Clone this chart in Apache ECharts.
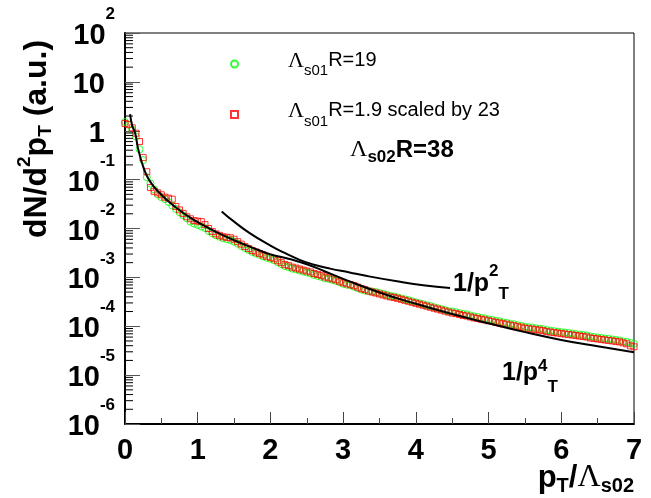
<!DOCTYPE html>
<html>
<head>
<meta charset="utf-8">
<script src="https://cdn.jsdelivr.net/npm/echarts@6.0.0/dist/echarts.min.js"></script>
<style>
  html, body { margin: 0; padding: 0; background: #fff; }
  #chart { width: 651px; height: 498px; }
</style>
</head>
<body>
<div id="chart"></div>
<script>
// pT / Lambda_s02 bin centres shared by both spectra
const ptBins = [
  0.00, 0.05, 0.10, 0.15, 0.20, 0.25, 0.30, 0.35, 0.40, 0.45,
  0.50, 0.55, 0.60, 0.65, 0.70, 0.75, 0.80, 0.85, 0.90, 0.95,
  1.00, 1.05, 1.10, 1.15, 1.20, 1.25, 1.30, 1.35, 1.40, 1.45,
  1.50, 1.55, 1.60, 1.65, 1.70, 1.75, 1.80, 1.85, 1.90, 1.95,
  2.00, 2.05, 2.10, 2.15, 2.20, 2.25, 2.30, 2.35, 2.40, 2.45,
  2.50, 2.55, 2.60, 2.65, 2.70, 2.75, 2.80, 2.85, 2.90, 2.95,
  3.00, 3.05, 3.10, 3.15, 3.20, 3.25, 3.30, 3.35, 3.40, 3.45,
  3.50, 3.55, 3.60, 3.65, 3.70, 3.75, 3.80, 3.85, 3.90, 3.95,
  4.00, 4.05, 4.10, 4.15, 4.20, 4.25, 4.30, 4.35, 4.40, 4.45,
  4.50, 4.55, 4.60, 4.65, 4.70, 4.75, 4.80, 4.85, 4.90, 4.95,
  5.00, 5.05, 5.10, 5.15, 5.20, 5.25, 5.30, 5.35, 5.40, 5.45,
  5.50, 5.55, 5.60, 5.65, 5.70, 5.75, 5.80, 5.85, 5.90, 5.95,
  6.00, 6.05, 6.10, 6.15, 6.20, 6.25, 6.30, 6.35, 6.40, 6.45,
  6.50, 6.55, 6.60, 6.65, 6.70, 6.75, 6.80, 6.85, 6.90, 6.95,
  7.00
];

// dN/d^2pT for Lambda_s01 R = 19
const yieldR19 = [
  1.51, 1.32, 1.05, 0.76, 0.417, 0.251, 0.112, 0.0832, 0.0631, 0.0501,
  0.0437, 0.0398, 0.0347, 0.0295, 0.0251, 0.0214, 0.0186, 0.0162, 0.0138, 0.0126,
  0.0118, 0.0110, 0.0102, 0.00891, 0.00794, 0.00724, 0.00676, 0.00631, 0.00603, 0.00575,
  0.00537, 0.00490, 0.00437, 0.00398, 0.00363, 0.00331, 0.00309, 0.00288, 0.00269, 0.00251,
  0.00240, 0.00224, 0.00204, 0.00186, 0.00170, 0.00162, 0.00151, 0.00145, 0.00138, 0.00132,
  0.00126, 0.00120, 0.00112, 0.00107, 0.00102, 9.55e-4, 9.33e-4, 8.91e-4, 8.51e-4, 7.94e-4,
  7.41e-4, 7.08e-4, 6.90e-4, 6.46e-4, 6.03e-4, 5.62e-4, 5.37e-4, 5.25e-4, 5.13e-4, 5.01e-4,
  4.79e-4, 4.57e-4, 4.37e-4, 4.17e-4, 4.07e-4, 3.89e-4, 3.72e-4, 3.55e-4, 3.42e-4, 3.24e-4,
  3.09e-4, 2.95e-4, 2.82e-4, 2.69e-4, 2.60e-4, 2.45e-4, 2.34e-4, 2.24e-4, 2.14e-4, 2.04e-4,
  2.00e-4, 1.95e-4, 1.86e-4, 1.78e-4, 1.76e-4, 1.66e-4, 1.58e-4, 1.55e-4, 1.48e-4, 1.45e-4,
  1.38e-4, 1.35e-4, 1.29e-4, 1.27e-4, 1.20e-4, 1.17e-4, 1.12e-4, 1.10e-4, 1.05e-4, 1.02e-4,
  9.77e-5, 9.55e-5, 9.40e-5, 9.12e-5, 8.91e-5, 8.71e-5, 8.32e-5, 8.13e-5, 7.94e-5, 7.76e-5,
  7.59e-5, 7.41e-5, 7.30e-5, 7.08e-5, 6.92e-5, 6.76e-5, 6.61e-5, 6.46e-5, 6.17e-5, 6.03e-5,
  5.89e-5, 5.75e-5, 5.62e-5, 5.55e-5, 5.37e-5, 5.25e-5, 5.13e-5, 4.90e-5, 4.79e-5, 4.57e-5,
  4.37e-5
];

// dN/d^2pT for Lambda_s01 R = 1.9, multiplied by 23
const yieldR19Scaled = [
  1.41, 1.35, 1.15, 0.89, 0.603, 0.282, 0.145, 0.0692, 0.0575, 0.0537,
  0.0490, 0.0437, 0.0417, 0.0398, 0.0282, 0.0240, 0.0204, 0.0174, 0.0158, 0.0145,
  0.0141, 0.0138, 0.0120, 0.0100, 0.00871, 0.00776, 0.00724, 0.00676, 0.00661, 0.00646,
  0.00603, 0.00537, 0.00479, 0.00427, 0.00389, 0.00355, 0.00331, 0.00309, 0.00288, 0.00269,
  0.00257, 0.00240, 0.00219, 0.00200, 0.00182, 0.00174, 0.00162, 0.00155, 0.00148, 0.00141,
  0.00135, 0.00129, 0.00120, 0.00115, 0.00110, 0.00102, 9.77e-4, 9.33e-4, 8.91e-4, 8.32e-4,
  7.76e-4, 7.41e-4, 7.08e-4, 6.76e-4, 6.31e-4, 5.89e-4, 5.62e-4, 5.25e-4, 5.01e-4, 4.79e-4,
  4.57e-4, 4.37e-4, 4.17e-4, 3.98e-4, 3.89e-4, 3.72e-4, 3.55e-4, 3.39e-4, 3.24e-4, 3.09e-4,
  2.95e-4, 2.82e-4, 2.69e-4, 2.57e-4, 2.45e-4, 2.34e-4, 2.24e-4, 2.14e-4, 2.04e-4, 1.95e-4,
  1.86e-4, 1.82e-4, 1.74e-4, 1.66e-4, 1.62e-4, 1.55e-4, 1.48e-4, 1.45e-4, 1.38e-4, 1.35e-4,
  1.29e-4, 1.26e-4, 1.20e-4, 1.17e-4, 1.12e-4, 1.10e-4, 1.05e-4, 1.02e-4, 9.77e-5, 9.55e-5,
  9.12e-5, 8.91e-5, 8.71e-5, 8.51e-5, 8.32e-5, 8.13e-5, 7.76e-5, 7.59e-5, 7.41e-5, 7.24e-5,
  7.08e-5, 6.92e-5, 6.76e-5, 6.61e-5, 6.46e-5, 6.31e-5, 6.17e-5, 6.03e-5, 5.75e-5, 5.62e-5,
  5.50e-5, 5.37e-5, 5.25e-5, 5.13e-5, 5.01e-5, 4.90e-5, 4.79e-5, 4.57e-5, 4.37e-5, 3.98e-5,
  3.80e-5
];

// fitted curve (1/pT^4 at large pT)
const fitPt = [0.07, 0.10, 0.14, 0.18, 0.23, 0.30, 0.40, 0.50, 0.60, 0.70, 0.80, 0.90, 1.00,
  1.25, 1.50, 1.75, 2.00, 2.25, 2.50, 2.75, 3.00, 3.50, 4.00, 4.50, 5.00, 5.50, 6.00, 6.50, 7.00];
const fitYield = [2.19, 1.26, 0.89, 0.43, 0.23, 0.12, 0.0708, 0.0490, 0.0355, 0.0269, 0.0209, 0.0166, 0.0135,
  0.00851, 0.00575, 0.00407, 0.00295, 0.00240, 0.00186, 0.00132, 9.33e-4, 4.90e-4, 2.88e-4, 1.78e-4,
  1.15e-4, 7.59e-5, 5.25e-5, 3.89e-5, 2.95e-5];

// 1/pT^2 reference curve
const powPt = [1.33, 1.50, 1.72, 2.00, 2.18, 2.41, 2.60, 2.82, 3.09, 3.28, 3.74, 4.10, 4.47];
const powYield = [0.0224, 0.0138, 0.00794, 0.00447, 0.00324, 0.00226, 0.00182, 0.00151, 0.00126,
  0.00110, 8.32e-4, 6.92e-4, 6.03e-4];

// log-axis minor tick mantissas and decades
const minorMantissas = [2, 3, 4, 5, 6, 7, 8, 9];
const minorDecades = [-6, -5, -4, -3, -2, -1, 0, 1];

const SANS = 'Liberation Sans, Arial, Helvetica, sans-serif';
const SERIF = 'Liberation Serif, Times New Roman, serif';

const pairs = (xs, ys) => xs.map((x, i) => [x, ys[i]]);
const minorTicks = [];
minorDecades.forEach(d => minorMantissas.forEach(m => minorTicks.push([0, m * Math.pow(10, d)])));

const chart = echarts.init(document.getElementById('chart'), null, { renderer: 'canvas' });

const option = {
  animation: false,
  backgroundColor: '#fff',
  grid: {
    left: 125, top: 33, right: 17, bottom: 74,
    show: true, borderColor: '#000', borderWidth: 1, backgroundColor: 'transparent'
  },
  xAxis: {
    type: 'value', min: 0, max: 7, interval: 1,
    axisLine: { show: true, onZero: false, lineStyle: { color: '#000', width: 2 } },
    axisTick: { show: true, inside: true, length: 12, lineStyle: { color: '#444', width: 1 } },
    minorTick: { show: true, splitNumber: 2, length: 6, lineStyle: { color: '#444', width: 1 } },
    splitLine: { show: false },
    axisLabel: {
      margin: 12, color: '#000', fontSize: 29, fontWeight: 'bold', fontFamily: SANS
    }
  },
  yAxis: {
    type: 'log', logBase: 10, min: 1e-6, max: 100, splitNumber: 8,
    axisLine: { show: true, onZero: false, lineStyle: { color: '#000', width: 2 } },
    axisTick: { show: true, inside: true, length: 15, lineStyle: { color: '#555', width: 1 } },
    splitLine: { show: false },
    axisLabel: {
      margin: 10, color: '#000',
      formatter: v => {
        const e = Math.round(Math.log10(v));
        if (e === 0) return '{p|1}';
        if (e === 1) return '{p|10}';
        return '{b|10}{e|' + e + '}';
      },
      rich: {
        b: { fontSize: 29, fontWeight: 'bold', fontFamily: SANS, color: '#000', padding: [6, 0, 0, 0] },
        p: { fontSize: 29, fontWeight: 'bold', fontFamily: SANS, color: '#000', padding: [6, 10, 0, 0] },
        e: { fontSize: 17, fontWeight: 'bold', fontFamily: SANS, color: '#000', padding: [0, 0, 37, 0] }
      }
    }
  },
  legend: {
    data: ['R19', 'R19scaled'],
    orient: 'vertical', left: 225, top: 45, padding: 5,
    itemWidth: 7, itemHeight: 7, itemGap: 22,
    selectedMode: false,
    formatter: name => name === 'R19'
      ? '{pad|}{L|Λ}{s|s01}{t|R=19}'
      : '{pad|}{L|Λ}{s|s01}{t|R=1.9 scaled by 23}',
    textStyle: {
      rich: {
        pad: { width: 45 },
        L: { fontSize: 22, fontFamily: SERIF, color: '#000', padding: [0, 0, 6, 0] },
        s: { fontSize: 15, fontFamily: SANS, color: '#000', padding: [14, 0, 0, 0] },
        t: { fontSize: 20, fontFamily: SANS, color: '#000', padding: [0, 0, 8, 0] }
      }
    }
  },
  series: [
    {
      name: 'R19', type: 'scatter',
      data: pairs(ptBins, yieldR19),
      symbol: 'circle', symbolSize: 7,
      itemStyle: { color: 'rgba(0,0,0,0)', borderColor: '#00ff00', borderWidth: 1 },
      z: 2
    },
    {
      name: 'R19scaled', type: 'scatter',
      data: pairs(ptBins, yieldR19Scaled),
      symbol: 'rect', symbolSize: 6,
      itemStyle: { color: 'rgba(0,0,0,0)', borderColor: '#ff0000', borderWidth: 1 },
      z: 3
    },
    {
      name: 'fit', type: 'line',
      data: pairs(fitPt, fitYield),
      showSymbol: false, smooth: 0.5,
      lineStyle: { color: '#000', width: 2 },
      z: 4, silent: true
    },
    {
      name: 'pow2', type: 'line',
      data: pairs(powPt, powYield),
      showSymbol: false, smooth: 0.5,
      lineStyle: { color: '#000', width: 2 },
      z: 4, silent: true
    },
    {
      name: 'minorTicks', type: 'custom', silent: true, clip: false, z: 5,
      data: minorTicks,
      renderItem: (params, api) => {
        const p = api.coord([api.value(0), api.value(1)]);
        return {
          type: 'line',
          shape: { x1: p[0], y1: p[1], x2: p[0] + 8, y2: p[1] },
          style: { stroke: '#000', lineWidth: 1 }
        };
      }
    }
  ],
  graphic: [
    {
      type: 'text', x: 37, y: 139, rotation: Math.PI / 2,
      style: {
        text: '{m|dN/d}{sp|2}{m|p}{sb|T}{m| (a.u.)}',
        align: 'center', verticalAlign: 'middle',
        rich: {
          m: { fontSize: 32, fontWeight: 'bold', fontFamily: SANS, fill: '#000' },
          sp: { fontSize: 19, fontWeight: 'bold', fontFamily: SANS, fill: '#000', padding: [0, 0, 24, 0] },
          sb: { fontSize: 19, fontWeight: 'bold', fontFamily: SANS, fill: '#000', padding: [18, 0, 0, 0] }
        }
      }
    },
    {
      type: 'text', x: 634, y: 478,
      style: {
        text: '{m|p}{sb|T}{m|/}{L|Λ}{sb|s02}',
        align: 'right', verticalAlign: 'middle',
        rich: {
          m: { fontSize: 31, fontWeight: 'bold', fontFamily: SANS, fill: '#000' },
          L: { fontSize: 32, fontFamily: SERIF, fill: '#000' },
          sb: { fontSize: 20, fontWeight: 'bold', fontFamily: SANS, fill: '#000', padding: [17, 0, 0, 0] }
        }
      }
    },
    {
      type: 'text', x: 350, y: 150,
      style: {
        text: '{L|Λ}{s|s02}{t|R=38}',
        align: 'left', verticalAlign: 'middle',
        rich: {
          L: { fontSize: 24, fontFamily: SERIF, fill: '#000' },
          s: { fontSize: 17, fontWeight: 'bold', fontFamily: SANS, fill: '#000', padding: [14, 0, 0, 0] },
          t: { fontSize: 24, fontWeight: 'bold', fontFamily: SANS, fill: '#000' }
        }
      }
    },
    {
      type: 'text', x: 453, y: 284,
      style: {
        text: '{m|1/p}{sp|2}{sb|T}',
        align: 'left', verticalAlign: 'middle',
        rich: {
          m: { fontSize: 25, fontWeight: 'bold', fontFamily: SANS, fill: '#000' },
          sp: { fontSize: 17, fontWeight: 'bold', fontFamily: SANS, fill: '#000', padding: [0, 0, 25, 0] },
          sb: { fontSize: 17, fontWeight: 'bold', fontFamily: SANS, fill: '#000', padding: [20, 0, 0, 0] }
        }
      }
    },
    {
      type: 'text', x: 502, y: 373,
      style: {
        text: '{m|1/p}{sp|4}{sb|T}',
        align: 'left', verticalAlign: 'middle',
        rich: {
          m: { fontSize: 25, fontWeight: 'bold', fontFamily: SANS, fill: '#000' },
          sp: { fontSize: 17, fontWeight: 'bold', fontFamily: SANS, fill: '#000', padding: [0, 0, 14, 0] },
          sb: { fontSize: 17, fontWeight: 'bold', fontFamily: SANS, fill: '#000', padding: [29, 0, 0, 0] }
        }
      }
    }
  ]
};

chart.setOption(option);
</script>
</body>
</html>
